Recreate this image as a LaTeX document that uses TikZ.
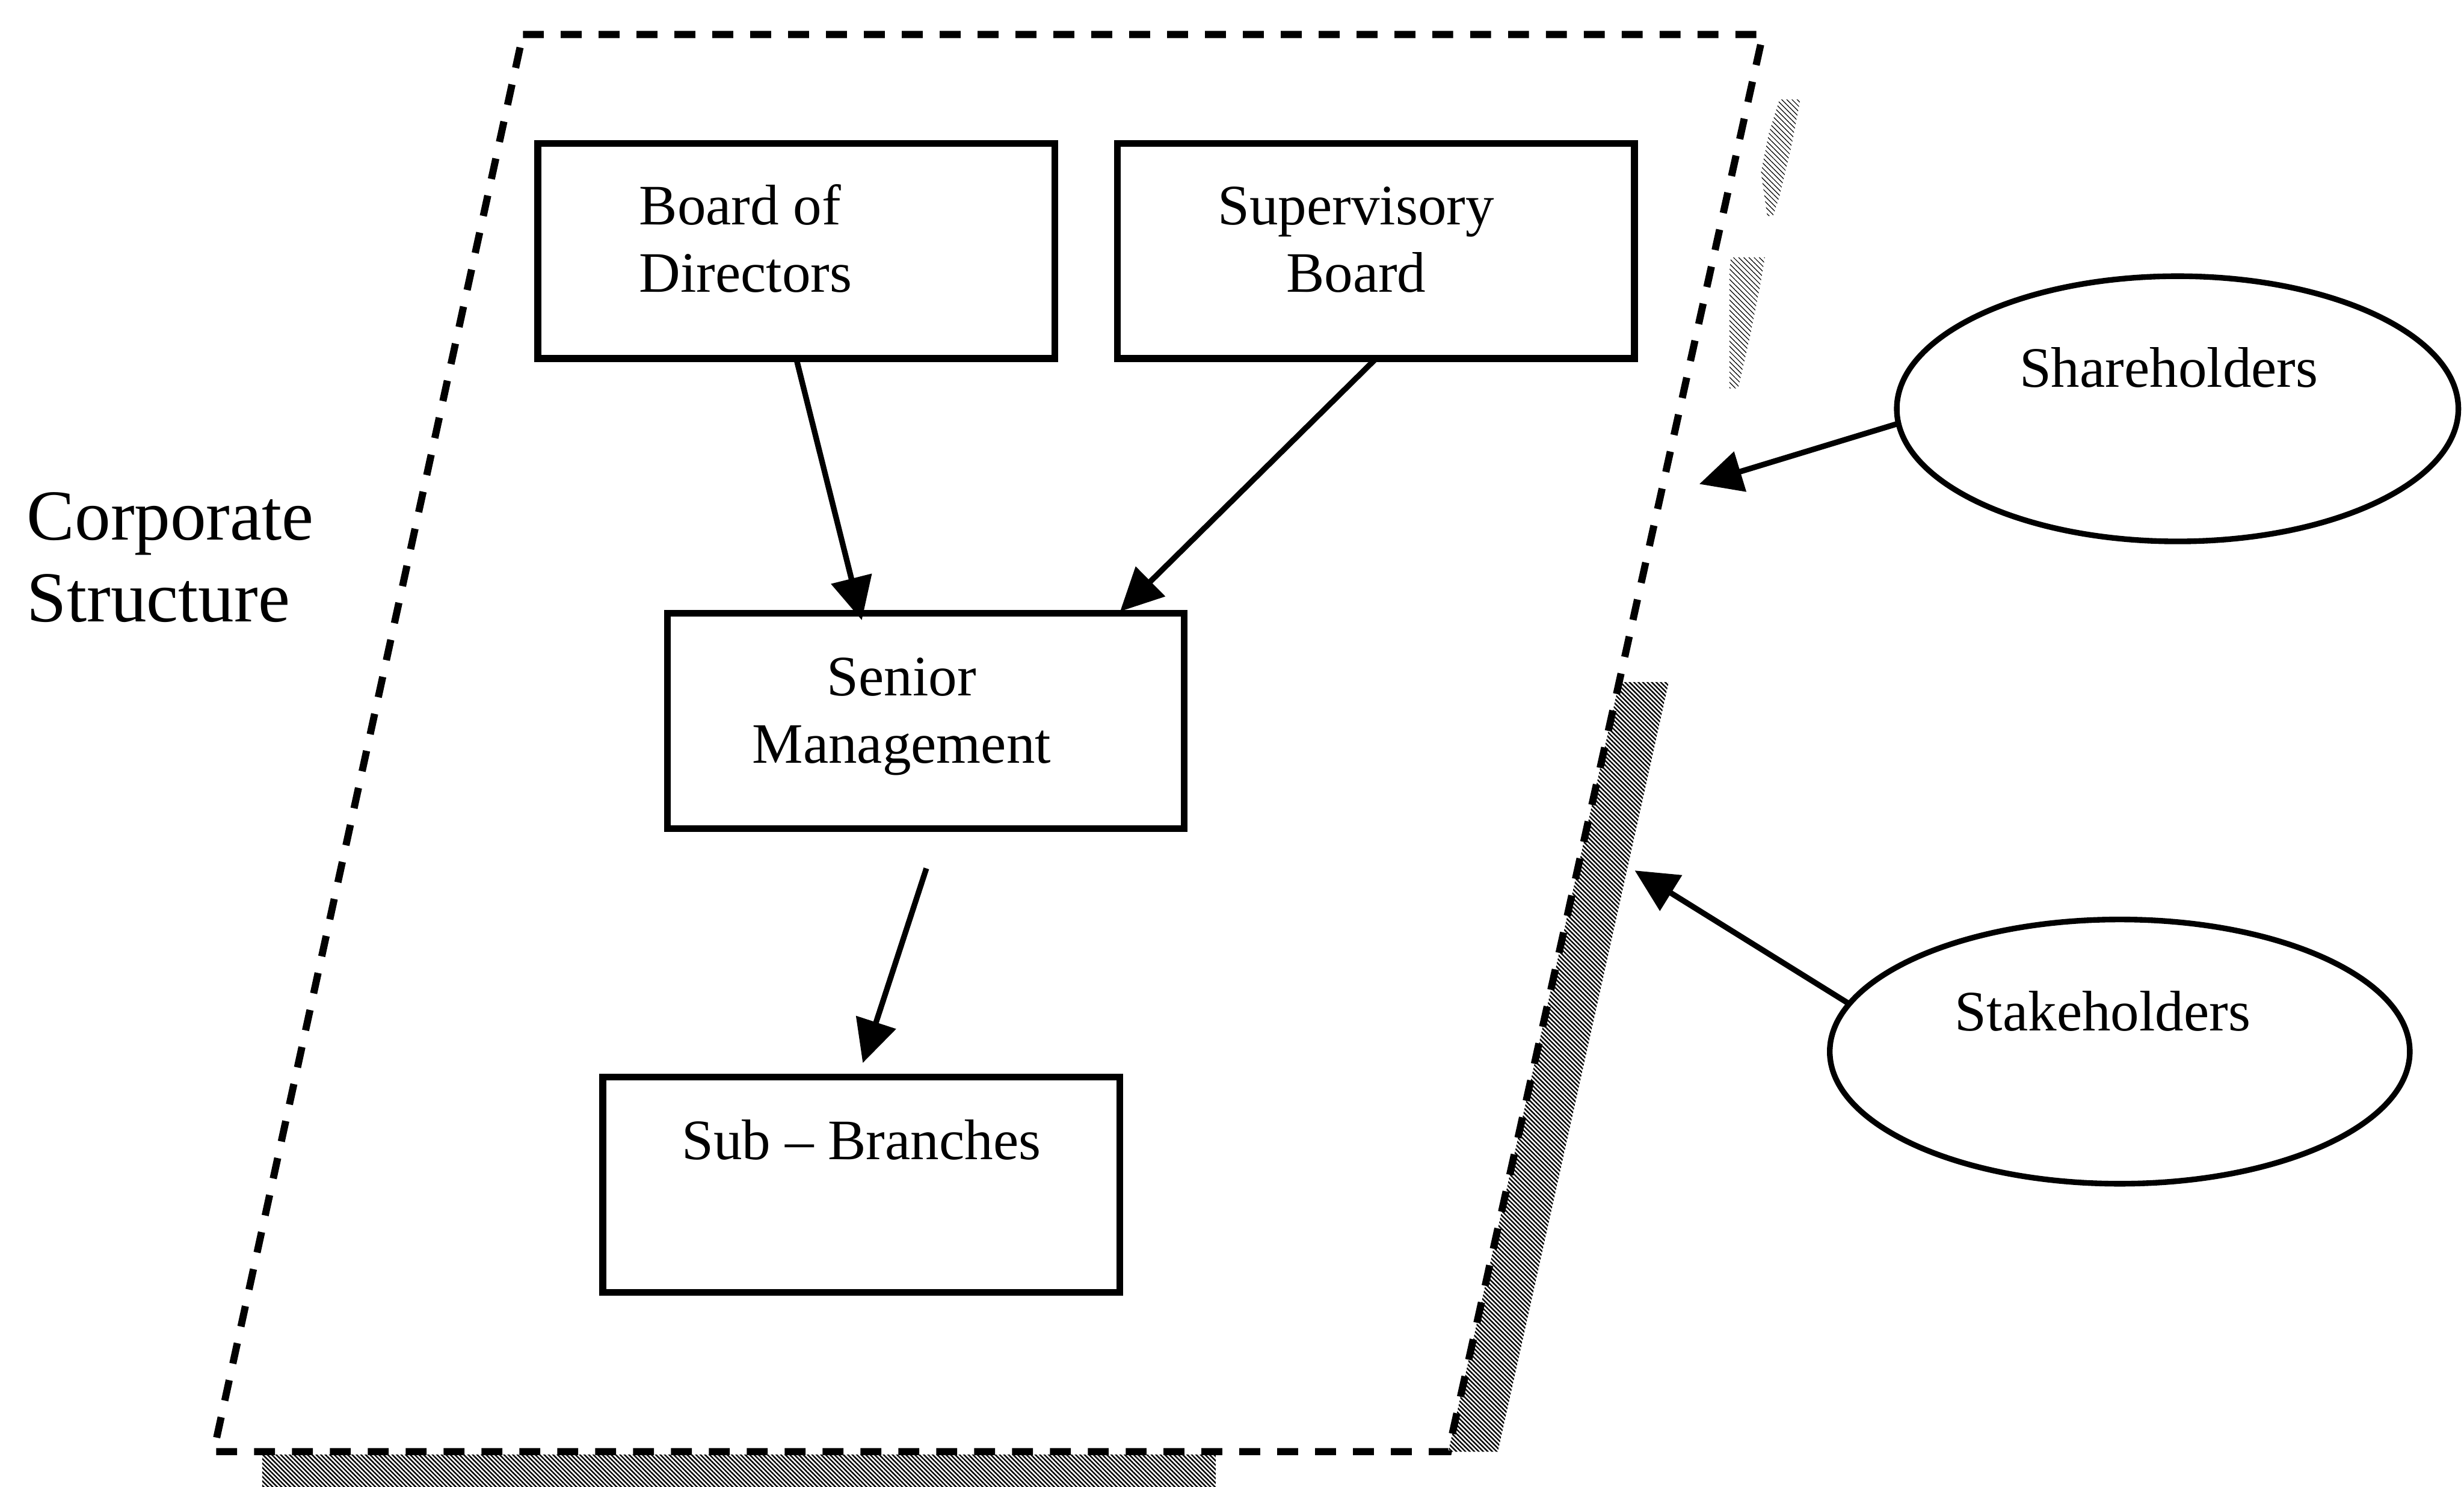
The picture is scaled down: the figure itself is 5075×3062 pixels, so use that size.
\documentclass[tikz,border=0pt]{standalone}
\usepackage{fontspec}
\setmainfont{Liberation Serif}
\usetikzlibrary{arrows.meta,shapes.geometric,patterns.meta,calc}

\begin{document}
\begin{tikzpicture}[x=0.01cm,y=-0.01cm,
  orgbox/.style={draw, line width=4pt, minimum width=10.64cm, minimum height=4.43cm, inner sep=0pt, outer sep=0pt},
  party/.style={draw, ellipse, line width=3.3pt, inner sep=0pt, outer sep=0pt},
  caption/.style={inner sep=0pt, font=\fontsize{33.5}{39.4}\selectfont},
  heading/.style={inner sep=0pt, font=\fontsize{42}{47.8}\selectfont},
  link/.style={line width=3.3pt, -{Triangle[length=0.88cm,width=0.84cm]}},
  frameline/.style={line width=4.2pt, dash pattern=on 0.43cm off 0.35cm},
  hatch/.style={pattern={Lines[angle=-45,distance=0.065cm,line width=0.03cm]}},
  fainthatch/.style={pattern={Lines[angle=-45,distance=0.075cm,line width=0.015cm]}}
]
\useasboundingbox (0,0) rectangle (5075,3062);

% hatched drop shadow of the corporate frame
\fill[hatch] (3335,1405) -- (3437,1405) -- (3085,2990) -- (2983,2990) -- cycle;
\fill[hatch] (540,2996) rectangle (2504,3062);
\fill[fainthatch] (3665,205) -- (3708,205) -- (3690,300) -- (3665,405) -- (3652,445)
  -- (3640,445) -- (3627,355) -- (3643,275) -- cycle;
\fill[fainthatch] (3565,530) -- (3635,530) -- (3625,590) -- (3605,690) -- (3580,800)
  -- (3562,800) -- (3562,560) -- cycle;

% dashed corporate frame
\draw[frameline] (1077,71) -- (3631,71) -- (2983,2990) -- (440,2990) -- cycle;

% organisational units
\node[orgbox] (bod) at (1640,517) {};
\node[orgbox] (sup) at (2834,517) {};
\node[orgbox] (sm)  at (1907,1485) {};
\node[orgbox] (sb)  at (1774,2440) {};

% outside parties
\node[party, minimum width=11.56cm, minimum height=5.46cm] (sh) at (4485,842) {};
\node[party, minimum width=11.94cm, minimum height=5.44cm] (st) at (4366,2166) {};

% texts
\node[caption, anchor=base west] (bodT) at (1316,463)
  {\begin{tabular}[t]{@{}l@{}}Board of\\Directors\end{tabular}};
\node[caption, anchor=base] (supT) at (2793,463)
  {\begin{tabular}[t]{@{}c@{}}Supervisory\\Board\end{tabular}};
\node[caption, anchor=base] (smT) at (1857,1433)
  {\begin{tabular}[t]{@{}c@{}}Senior\\Management\end{tabular}};
\node[caption, anchor=base] (sbT) at (1774,2388) {Sub – Branches};
\node[caption, anchor=base] (shT) at (4467,797) {Shareholders};
\node[caption, anchor=base] (stT) at (4331,2123) {Stakeholders};
\node[heading, anchor=base west] (corpT) at (55,1112)
  {\begin{tabular}[t]{@{}l@{}}Corporate\\Structure\end{tabular}};

% connectors
\coordinate (shTip) at (3500,997);
\coordinate (stTip) at (3367,1793);
\draw[link] (bod.south) -- ($(sm.north)+(-132,14)$);
\draw[link] (sup.south) -- ($(sm.north)+(400,-4)$);
\draw[link] ($(sm.south)+(1,82)$) -- ($(sb.north)+(3,-29)$);
\draw[link] (sh.183) -- (shTip);
\draw[link] (st.170) -- (stTip);
\end{tikzpicture}
\end{document}
